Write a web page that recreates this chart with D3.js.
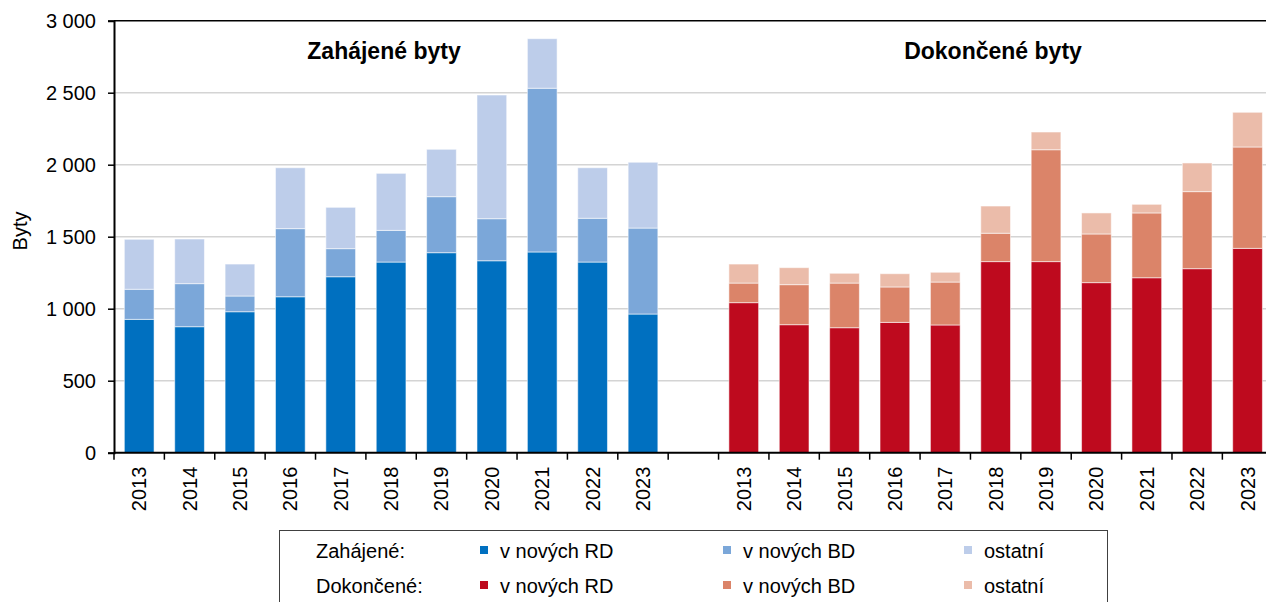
<!DOCTYPE html>
<html>
<head>
<meta charset="utf-8">
<script src="https://d3js.org/d3.v7.min.js"></script>
<style type="text/css">
* { box-sizing:border-box; }
body { margin:0; background:#fff; }
svg { display:block; overflow:hidden; }
text { font-family:"Liberation Sans", Arial, sans-serif; fill:#000; }
</style>
</head>
<body>
<div id="chart"></div>
<script>
// years on the category axis (same for both groups)
var years = ["2013","2014","2015","2016","2017","2018","2019","2020","2021","2022","2023"];

// Zahájené byty (started dwellings)
var zahRD  = [926, 875, 979, 1083, 1222, 1324, 1389, 1333, 1394, 1324, 963];
var zahBD  = [209, 299, 109, 473, 195, 220, 389, 292, 1137, 304, 597];
var zahOst = [347, 310, 222, 423, 287, 396, 329, 859, 344, 351, 457];

// Dokončené byty (completed dwellings)
var dokRD  = [1042, 889, 868, 905, 887, 1327, 1327, 1181, 1215, 1278, 1419];
var dokBD  = [136, 278, 310, 246, 298, 197, 777, 338, 450, 535, 704];
var dokOst = [132, 118, 68, 92, 68, 189, 123, 146, 60, 199, 241];

var yTicks = [0, 500, 1000, 1500, 2000, 2500, 3000];
var seriesNames = ["v nových RD", "v nových BD", "ostatní"];
var blues = ["#0070C0", "#7BA7D9", "#BDCDEA"];
var reds  = ["#BE0A1E", "#DB8469", "#EBBCAA"];

var W = 1266, H = 602;
var svg = d3.select("#chart").append("svg")
  .attr("width", W).attr("height", H);

// slots: 11 started + 1 empty + 11 completed
var slots = years.map(function(y){ return "Z" + y; })
  .concat(["gap"])
  .concat(years.map(function(y){ return "D" + y; }));

var x = d3.scaleBand()
  .domain(slots)
  .range([114, 114 + 23 * 50.38])
  .paddingInner(0.41)
  .paddingOuter(0.205);

var y = d3.scaleLinear()
  .domain([0, 3000])
  .range([452.7, 20.7]);

// gridlines
svg.append("g").selectAll("line")
  .data(yTicks.filter(function(d){ return d > 0 && d < 3000; }))
  .enter().append("line")
    .attr("x1", 114).attr("x2", W)
    .attr("y1", function(d){ return y(d); })
    .attr("y2", function(d){ return y(d); })
    .style("stroke", "#D4D4D4")
    .style("stroke-width", 1.5);

// top border line
svg.append("line")
  .attr("x1", 114).attr("x2", W)
  .attr("y1", y(3000)).attr("y2", y(3000))
  .style("stroke", "#000").style("stroke-width", 1.5);

// build stacked rows
function stackRows(prefix, a, b, c) {
  return years.map(function(yr, i) {
    return { key: prefix + yr, s0: a[i], s1: b[i], s2: c[i] };
  });
}
var stack = d3.stack().keys(["s0", "s1", "s2"]);
var zahStack = stack(stackRows("Z", zahRD, zahBD, zahOst));
var dokStack = stack(stackRows("D", dokRD, dokBD, dokOst));

function drawBars(layers, colors) {
  svg.append("g").selectAll("g")
    .data(layers)
    .enter().append("g")
      .style("fill", function(d, i){ return colors[i]; })
    .selectAll("rect")
    .data(function(d){ return d; })
    .enter().append("rect")
      .attr("x", function(d){ return x(d.data.key); })
      .attr("width", x.bandwidth())
      .attr("y", function(d){ return y(d[1]); })
      .attr("height", function(d){ return y(d[0]) - y(d[1]); })
      .style("stroke", "rgba(255,255,255,0.55)")
      .style("stroke-width", 1);
}
drawBars(zahStack, blues);
drawBars(dokStack, reds);

// y axis
var yAxis = svg.append("g")
  .attr("transform", "translate(114,0)")
  .call(d3.axisLeft(y).tickValues(yTicks).tickSize(6).tickPadding(12)
    .tickFormat(function(d){ return d3.format(",")(d).replace(",", " "); }));
yAxis.select(".domain").style("stroke", "#000").style("stroke-width", 2);
yAxis.selectAll(".tick line").style("stroke", "#000").style("stroke-width", 1.5);
yAxis.selectAll(".tick text")
  .style("font-size", "20px")
  .style("font-family", "'Liberation Sans', Arial, sans-serif")
  .attr("fill", "#000");

// x axis line
svg.append("line")
  .attr("x1", 114).attr("x2", W)
  .attr("y1", y(0)).attr("y2", y(0))
  .style("stroke", "#000").style("stroke-width", 2);

// ticks at slot boundaries
var gapHalf = x.step() * x.paddingInner() / 2;
svg.append("g").selectAll("line")
  .data(slots)
  .enter().append("line")
    .attr("x1", function(d){ return x(d) - gapHalf; })
    .attr("x2", function(d){ return x(d) - gapHalf; })
    .attr("y1", y(0)).attr("y2", y(0) + 7)
    .style("stroke", "#000").style("stroke-width", 1.5);

// year labels
svg.append("g").selectAll("text")
  .data(slots.filter(function(d){ return d !== "gap"; }))
  .enter().append("text")
    .attr("transform", function(d){
      return "translate(" + (x(d) + x.bandwidth() / 2 + 7) + "," + (y(0) + 14) + ") rotate(-90)";
    })
    .attr("text-anchor", "end")
    .style("font-size", "20px")
    .text(function(d){ return d.slice(1); });

// panel titles
svg.append("text")
  .attr("x", 384).attr("y", 59)
  .attr("text-anchor", "middle")
  .style("font-size", "23px").style("font-weight", "bold")
  .text("Zahájené byty");
svg.append("text")
  .attr("x", 993).attr("y", 59)
  .attr("text-anchor", "middle")
  .style("font-size", "23px").style("font-weight", "bold")
  .text("Dokončené byty");

// y title
svg.append("text")
  .attr("transform", "translate(27,231) rotate(-90)")
  .attr("text-anchor", "middle")
  .style("font-size", "20px")
  .text("Byty");

// legend
var legend = svg.append("g");
legend.append("rect")
  .attr("x", 279.5).attr("y", 530.5)
  .attr("width", 828).attr("height", 90)
  .style("fill", "#fff").style("stroke", "#404040").style("stroke-width", 1);

var rows = [
  { label: "Zahájené:", colors: blues, yy: 558 },
  { label: "Dokončené:", colors: reds, yy: 593 }
];
var colX = [480, 723, 964];
rows.forEach(function(r) {
  legend.append("text")
    .attr("x", 316).attr("y", r.yy)
    .style("font-size", "20px")
    .text(r.label);
  seriesNames.forEach(function(name, i) {
    legend.append("rect")
      .attr("x", colX[i]).attr("y", r.yy - 12)
      .attr("width", 8).attr("height", 8)
      .style("fill", r.colors[i]);
    legend.append("text")
      .attr("x", colX[i] + 20).attr("y", r.yy)
      .style("font-size", "20px")
      .text(name);
  });
});
</script>
</body>
</html>
